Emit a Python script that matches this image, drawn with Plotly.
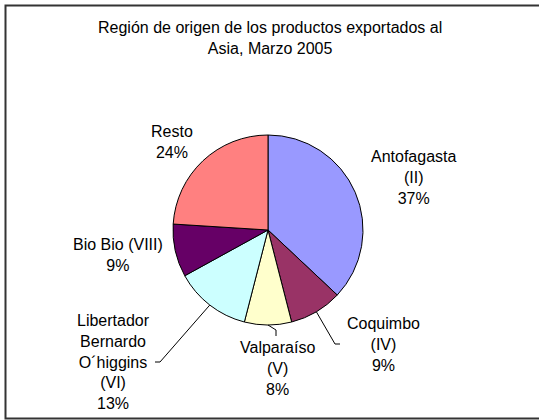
import math
import plotly.graph_objects as go

# ---- data ----
regions = ["Antofagasta (II)", "Coquimbo (IV)", "Valparaíso (V)",
           "Libertador Bernardo O´higgins (VI)", "Bio Bio (VIII)", "Resto"]
shares = [37, 9, 8, 13, 9, 24]
label_texts = ["Antofagasta<br>(II)<br>37%", "Coquimbo<br>(IV)<br>9%",
               "Valparaíso<br>(V)<br>8%",
               "Libertador<br>Bernardo<br>O´higgins<br>(VI)<br>13%",
               "Bio Bio (VIII)<br>9%", "Resto<br>24%"]
colors = ["#9999FF", "#993366", "#FFFFCC", "#CCFFFF", "#660066", "#FF8080"]
title_text = "Región de origen de los productos exportados al<br>Asia, Marzo 2005"

W, H = 539, 420
cx, cy, R = 268, 230, 95
FONT = "Liberation Sans, Arial, sans-serif"

def px(x):
    return x / W

def py(y):
    return 1 - y / H

fig = go.Figure(go.Pie(
    labels=regions, values=shares, sort=False, direction="clockwise",
    rotation=0, textinfo="none", hoverinfo="label+percent",
    marker=dict(colors=colors, line=dict(color="black", width=1)),
    domain=dict(x=[px(cx - R), px(cx + R)], y=[py(cy + R), py(cy - R)]),
    showlegend=False,
))

# label positions (pixel centres of label blocks)
label_pos = [(414, 177), (383, 344), (277, 368), (113, 362), (118, 255), (172, 142)]
annotations = []
for t, (x, y) in zip(label_texts, label_pos):
    annotations.append(dict(x=px(x), y=py(y), xref="paper", yref="paper",
                            text=t, showarrow=False, xanchor="center", yanchor="middle",
                            font=dict(family=FONT, size=16, color="black")))
annotations.append(dict(x=px(270), y=py(38), xref="paper", yref="paper",
                        text=title_text, showarrow=False, xanchor="center",
                        yanchor="middle",
                        font=dict(family=FONT, size=16, color="black")))

# leader lines from slice mid-angle on the edge
total = sum(shares)
def edge_point(i):
    start = sum(shares[:i])
    mid = (start + shares[i] / 2) / total * 2 * math.pi
    return cx + R * math.sin(mid), cy - R * math.cos(mid)

shapes = []
leaders = {1: [(335, 344), (340, 344)], 2: [(276, 330), (276, 336)], 3: [(160, 362), (155, 362)]}
for i, pts in leaders.items():
    sx, sy = edge_point(i)
    path = f"M {px(sx)} {py(sy)}" + "".join(f" L {px(a)} {py(b)}" for a, b in pts)
    shapes.append(dict(type="path", xref="paper", yref="paper", path=path,
                       line=dict(color="black", width=1)))

# outer frame (right side lies outside the picture)
frame = f"M {px(539)} {py(5.5)} L {px(5.5)} {py(5.5)} L {px(5.5)} {py(418.5)} L {px(539)} {py(418.5)}"
shapes.append(dict(type="path", xref="paper", yref="paper", path=frame,
                   line=dict(color="#333333", width=2), layer="below"))

fig.update_layout(width=W, height=H, margin=dict(l=0, r=0, t=0, b=0),
                  paper_bgcolor="white", plot_bgcolor="white",
                  annotations=annotations, shapes=shapes,
                  font=dict(family=FONT))

fig.write_html("out.html", config={"displayModeBar": False},
               post_script="document.body.style.margin='0';document.body.style.overflow='hidden';"
                           "document.documentElement.style.overflow='hidden';")
